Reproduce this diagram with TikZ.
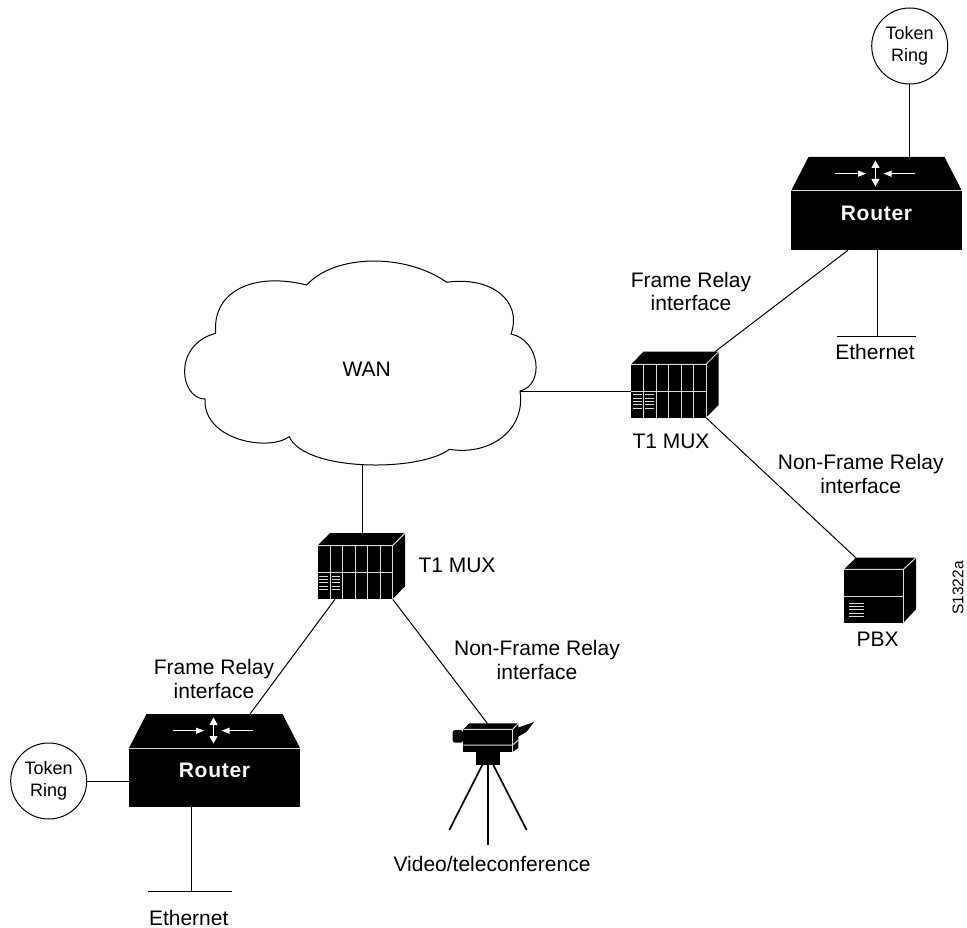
\documentclass[tikz,border=0pt]{standalone}
\usepackage{fontspec}
\setmainfont{Liberation Sans}
\usetikzlibrary{arrows.meta}
\tikzset{
  link/.style={line width=1pt},
  seam/.style={line width=1pt,white!85!black},
  whitearrow/.style={line width=.9pt,white,-{Stealth[inset=0pt,length=8pt,width=6pt]}},
  ring/.style={circle,draw,line width=1pt,minimum size=76pt,inner sep=0pt,align=center,font=\fontsize{18}{22}\selectfont},
  bus/.style={fill=black,minimum height=1pt,inner sep=0pt},
  txt/.style={align=center,inner sep=0pt,font=\fontsize{21}{23.7}\selectfont},
  pics/routerbox/.style={code={
    \node[fill=black,minimum width=171pt,minimum height=59pt,inner sep=0pt] (-body) at (0,0) {};
    \fill (-85.5,-29.5) -- (-68,-63.5) -- (68,-63.5) -- (85.5,-29.5) -- cycle;
    \coordinate (-top) at (0,-63.5);
    \draw[seam] (-85.5,-29.5) -- (85.5,-29.5);
    \draw[whitearrow] (-42,-46.8) -- (-10.5,-46.8);
    \draw[whitearrow] (38.5,-46.8) -- (7,-46.8);
    \draw[whitearrow,{Stealth[inset=0pt,length=7.5pt,width=8pt]}-{Stealth[inset=0pt,length=7.5pt,width=8pt]}] (-1,-60) -- (-1,-34);
    \node[white,inner sep=0pt,font=\fontsize{21}{24}\selectfont\bfseries\addfontfeature{LetterSpace=3.5}] (-text) at (0,-7.5) {Router};
  }},
  pics/muxbox/.style={code={
    \node[fill=black,minimum width=75pt,minimum height=53.4pt,inner sep=0pt] (-body) at (0,0) {};
    \fill (-37.5,-26.7) -- (-25,-39.3) -- (50,-39.3) -- (50,14) -- (37.5,26.7) -- (37.5,-26.7) -- cycle;
    \coordinate (-top) at (7.7,-39.3);
    \coordinate (-corner) at (46.5,-39.3);
    \draw[seam] (-37.5,-26.7) -- (37.5,-26.7) -- (50,-39.3);
    \draw[seam] (37.5,-26.7) -- (37.5,26.7);
    \draw[seam] (-37.5,0) -- (37.5,0);
    \foreach \x in {-25,-12.5,0,12.5,25}
      \draw[seam] (\x,-26.7) -- (\x,26.7);
    \foreach \y in {3.6,7,10.3,13.6,17} {
      \draw[seam] (-35.7,\y) -- (-27,\y);
      \draw[seam] (-23.3,\y) -- (-15,\y);
    }
  }},
  pics/pbxbox/.style={code={
    \node[fill=black,minimum width=59.4pt,minimum height=53.4pt,inner sep=0pt] (-body) at (0,0) {};
    \fill (-29.7,-26.7) -- (-17.7,-38.3) -- (42.3,-38.3) -- (42.3,13.3) -- (29.7,26.7) -- (29.7,-26.7) -- cycle;
    \coordinate (-top) at (-18,-38.3);
    \draw[seam] (-29.7,-26.7) -- (29.7,-26.7) -- (42.3,-38.3);
    \draw[seam] (29.7,-26.7) -- (29.7,26.7);
    \draw[seam] (-29.7,0) -- (29.7,0);
    \foreach \y in {7,10.3,13.6,17,20.3}
      \draw[seam] (-24.7,\y) -- (-9.7,\y);
  }},
  pics/camerabox/.style={code={
    \node[fill=black,minimum width=49.4pt,minimum height=22.4pt,inner sep=0pt] (-body) at (0,0) {};
    \fill (-24.7,-11.2) -- (-18.7,-17.2) -- (30.3,-17.2) -- (30.3,7.5) -- (24.7,11.2) -- cycle;
    \fill (29,-12.5) -- (46,-18.5) -- (38.7,-8.8) -- (30.3,-3.8) -- cycle;
    \fill[rounded corners=2.5pt] (-35.3,-10.5) rectangle (-25,2.2);
    \fill (-12,11.2) rectangle (12,24.5);
    \coordinate (-top) at (-.7,-17.2);
    \draw[seam] (-24.7,-11.2) -- (24.7,-11.2) -- (30.3,-17.2);
    \draw[seam] (24.7,-11.2) -- (24.7,11.2);
    \draw[seam] (-24.7,4.5) -- (24.7,4.5) -- (30.3,-.5);
    \draw[line width=1.7pt] (0,24.5) -- (0,104.5);
    \draw[line width=1.7pt] (-5.7,24.5) -- (-38.7,89.5);
    \draw[line width=1.7pt] (5.3,24.5) -- (38.7,89.5);
  }}
}
\begin{document}
\begin{tikzpicture}[x=1pt,y=-1pt]
  \useasboundingbox (0,0) rectangle (967,928);

  \draw[link] (215.7,333.3) .. controls (212,290) and (255,272) .. (306.7,285)
    .. controls (335,254) and (405,253) .. (446.7,282.3)
    .. controls (490,276) and (523,300) .. (511,334)
    .. controls (540,340) and (545,385) .. (520,391) coordinate (wanr)
    .. controls (526,430) and (490,456) .. (449.3,449.3)
    .. controls (420,472) and (305,472) .. (289.3,436.7)
    .. controls (268,452) and (203,440) .. (205,399)
    .. controls (180,399) and (172,345) .. (215.7,333.3) -- cycle;
  \coordinate (wanb) at (362.7,465);
  \node[txt] (wan) at (366.7,369.3) {WAN};

  \pic (r1) at (876.5,220.5) {routerbox};
  \pic (r2) at (214.5,777.5) {routerbox};
  \pic (m1) at (668.5,391) {muxbox};
  \pic (m2) at (355,572.4) {muxbox};
  \pic (pbx) at (873.7,596) {pbxbox};
  \pic (cam) at (488,740.5) {camerabox};

  \node[ring] (ring1) at (909.7,46) {Token\\Ring};
  \node[ring] (ring2) at (48.7,781) {Token\\Ring};
  \node[bus,minimum width=79.3pt] (bus1) at (876.4,336.7) {};
  \node[bus,minimum width=84.6pt] (bus2) at (190,891.7) {};

  \draw[link] (ring1.south) -- (ring1.south |- r1-top);
  \draw[link] (ring2.east) -- (ring2.east -| r2-body.west);
  \draw[link] ([xshift=1.2pt]bus1.center |- r1-body.south) -- ([xshift=1.2pt]bus1.center);
  \draw[link] ([xshift=1.3pt]bus2.center |- r2-body.south) -- ([xshift=1.3pt]bus2.center);
  \draw[link] (m1-corner) -- ([xshift=-28.5pt]r1-body.south);
  \draw[link] (wanr) -- (m1-body.west);
  \draw[link] (m1-body.south east) -- (pbx-top);
  \draw[link] (wanb) -- (m2-top);
  \draw[link] ([xshift=-20pt]m2-body.south) -- ([xshift=35.5pt]r2-top);
  \draw[link] (m2-body.south east) -- (cam-top);

  \node[txt] (frame1) at (691,291.5) {Frame Relay\\interface};
  \node[txt] (frame2) at (214,679) {Frame Relay\\interface};
  \node[txt] (non1) at (860.7,474) {Non-Frame Relay\\interface};
  \node[txt] (non2) at (537,660) {Non-Frame Relay\\interface};
  \node[txt] (t1) at (671,441) {T1 MUX};
  \node[txt] (t2) at (457,565) {T1 MUX};
  \node[txt] (eth1) at (875,351.7) {Ethernet};
  \node[txt] (eth2) at (188.7,917.7) {Ethernet};
  \node[txt] (pbxtext) at (877.7,639) {PBX};
  \node[txt] (video) at (492,864) {Video/teleconference};
  \node[inner sep=0pt,rotate=90,font=\fontsize{15.5}{18}\selectfont] (code) at (958,588) {S1322a};
\end{tikzpicture}
\end{document}
